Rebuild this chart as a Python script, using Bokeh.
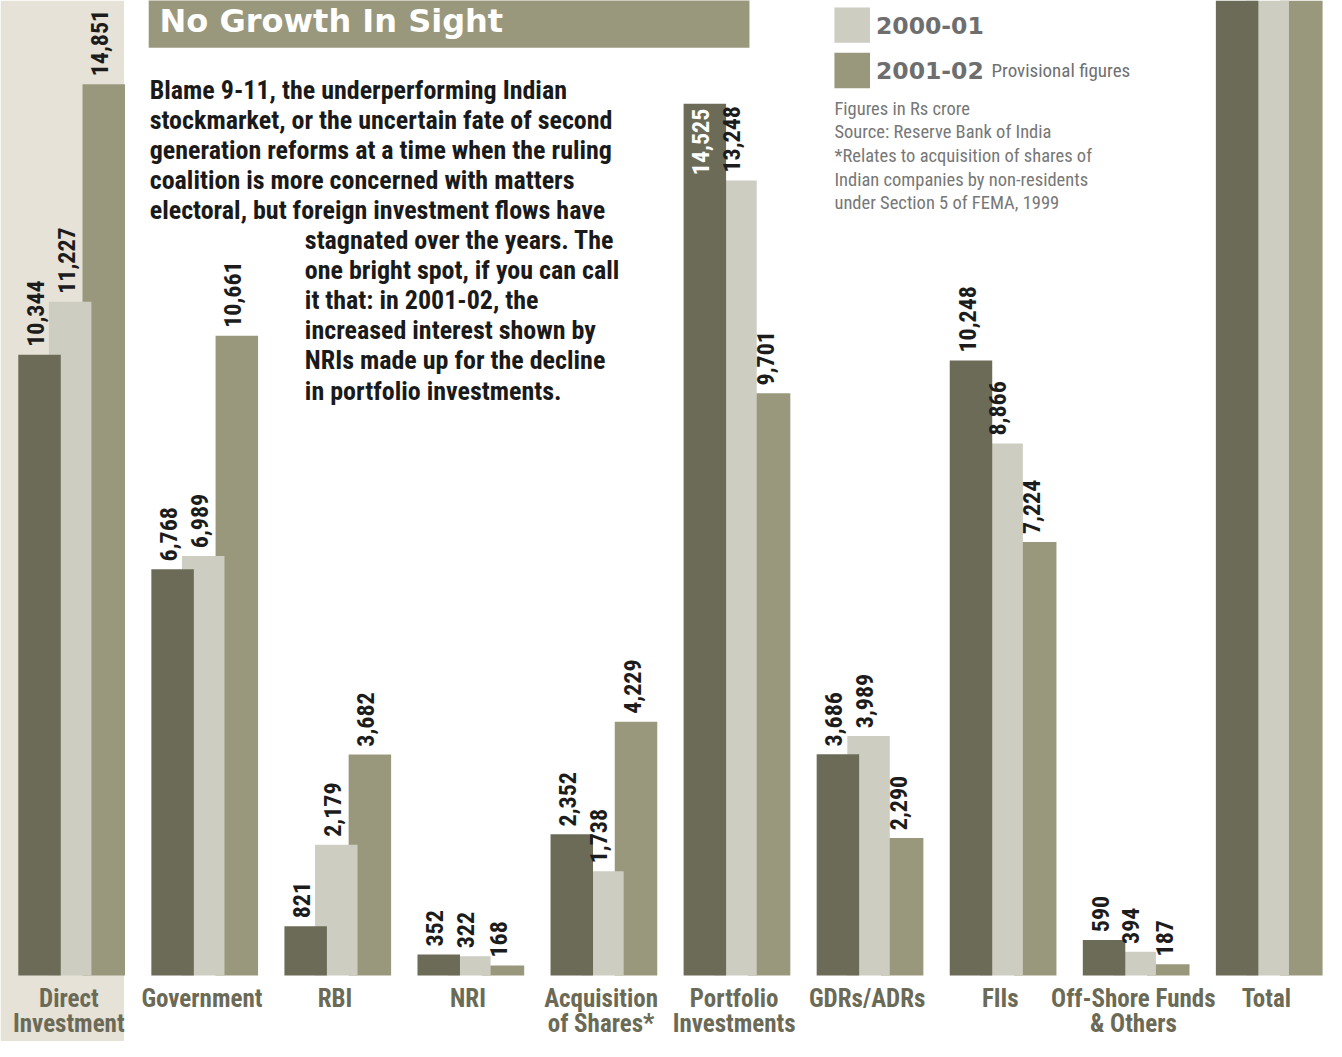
import math
from bokeh.plotting import figure
from bokeh.models import Range1d, ColumnDataSource
from bokeh.core.properties import value
from bokeh.embed import file_html
from bokeh.resources import INLINE

# ---------------- data ----------------
categories = ["Direct\nInvestment", "Government", "RBI", "NRI", "Acquisition\nof Shares*",
              "Portfolio\nInvestments", "GDRs/ADRs", "FIIs", "Off-Shore Funds\n& Others", "Total"]
series_names = ["1999-00", "2000-01", "2001-02"]
v_1999_00 = [10344, 6768, 821, 352, 2352, 14525, 3686, 10248, 590, 24869]
v_2000_01 = [11227, 6989, 2179, 322, 1738, 13248, 3989, 8866, 394, 24475]
v_2001_02 = [14851, 10661, 3682, 168, 4229, 9701, 2290, 7224, 187, 24552]
series_values = [v_1999_00, v_2000_01, v_2001_02]

paragraph = [
    "Blame 9-11, the underperforming Indian",
    "stockmarket, or the uncertain fate of second",
    "generation reforms at a time when the ruling",
    "coalition is more concerned with matters",
    "electoral, but foreign investment flows have",
    "stagnated over the years. The",
    "one bright spot, if you can call",
    "it that: in 2001-02, the",
    "increased interest shown by",
    "NRIs made up for the decline",
    "in portfolio investments.",
]
notes = [
    "Figures in Rs crore",
    "Source: Reserve Bank of India",
    "*Relates to acquisition of shares of",
    "Indian companies by non-residents",
    "under Section 5 of FEMA, 1999",
]
title = "No Growth In Sight"
provisional = "Provisional figures"

# ---------------- styling / layout ----------------
colors = ["#6c6b57", "#cecdc2", "#9a987c"]
cat_color = "#6b6a56"
NARROW = value("Roboto Condensed")
WIDE = value("DejaVu Sans")

RX = 134.67      # reference px per group
DX0 = 39.5       # reference px of first dark bar centre
YPU = 16.41      # data units per reference px (vertical)
TSHIFT = 9       # baseline correction for horizontal text (px)

def X(r):
    return (r - DX0) / RX

def Y(r):
    return (990 - r) * YPU

def YT(r):
    return Y(r - TSHIFT)

bar_w = 43 / RX
offsets = [0, 31 / RX, 65 / RX]
inside = {(5, 0)}   # label drawn inside bar (Portfolio 1999-00)
labelled_groups = 9  # Total bars run off the page

p = figure(width=1326, height=1041,
           x_range=Range1d(X(0), X(1342)), y_range=Range1d(Y(1057), Y(0)),
           output_backend="svg", toolbar_location=None,
           x_axis_location=None, y_axis_location=None, min_border=0)
p.grid.visible = False
p.outline_line_color = None
p.background_fill_color = "white"
p.border_fill_color = "white"

# faded photographic strip on the left
p.quad(left=X(0), right=X(125), top=Y(0), bottom=Y(1057),
       fill_color="#e6e2d8", line_color=None)

# bars: 2001-02 at back, 1999-00 in front
for s in [2, 1, 0]:
    xs = [i + offsets[s] for i in range(len(categories))]
    p.vbar(x=xs, top=series_values[s], bottom=0, width=bar_w,
           fill_color=colors[s], line_color=None)

# value labels
out_src = dict(x=[], y=[], t=[])
in_src = dict(x=[], y=[], t=[])
for s in range(3):
    for i in range(labelled_groups):
        v = series_values[s][i]
        xx = i + offsets[s] - 4 / RX
        if (i, s) in inside:
            in_src["x"].append(xx); in_src["y"].append(v - 5 * YPU); in_src["t"].append(f"{v:,}")
        else:
            out_src["x"].append(xx); out_src["y"].append(v + 8 * YPU); out_src["t"].append(f"{v:,}")
p.text(x="x", y="y", text="t", source=ColumnDataSource(out_src), angle=math.pi / 2,
       text_align="left", text_baseline="middle", text_font=NARROW, text_font_style="bold",
       text_font_size="24px", text_color="#1c1c1c")
p.text(x="x", y="y", text="t", source=ColumnDataSource(in_src), angle=math.pi / 2,
       text_align="right", text_baseline="middle", text_font=NARROW, text_font_style="bold",
       text_font_size="24px", text_color="white")

# category labels
l1 = dict(x=[], y=[], t=[])
l2 = dict(x=[], y=[], t=[])
for i, c in enumerate(categories):
    parts = c.split("\n")
    l1["x"].append(i + 0.22); l1["y"].append(YT(1022)); l1["t"].append(parts[0])
    if len(parts) > 1:
        l2["x"].append(i + 0.22); l2["y"].append(YT(1048)); l2["t"].append(parts[1])
for src in (l1, l2):
    p.text(x="x", y="y", text="t", source=ColumnDataSource(src), text_align="center",
           text_baseline="alphabetic", text_font=NARROW, text_font_style="bold",
           text_font_size="25px", text_color=cat_color)

# title box
p.quad(left=X(150), right=X(758), top=Y(0) + 50, bottom=Y(48),
       fill_color="#9a987c", line_color=None)
p.text(x=[X(161)], y=[YT(30)], text=[title], text_font=WIDE, text_font_style="bold",
       text_font_size="32px", text_color="white", text_baseline="alphabetic")

# paragraph
px = [X(151)] * 5 + [X(308)] * 6
py = [YT(100 + 30.5 * k) for k in range(len(paragraph))]
p.text(x=px, y=py, text=paragraph, text_font=NARROW, text_font_style="bold",
       text_font_size="26px", text_color="#1a1a1a", text_baseline="alphabetic")

# legend (1999-00 entry lies above the visible page)
for s in [1, 2]:
    top = 7 + (s - 1) * 46
    p.quad(left=X(844), right=X(880), top=Y(top), bottom=Y(top + 36),
           fill_color=colors[s], line_color=None)
    p.text(x=[X(886)], y=[YT(top + 27)], text=[series_names[s]], text_font=WIDE,
           text_font_style="bold", text_font_size="23.5px", text_color="#6e6e6e",
           text_baseline="alphabetic")
p.text(x=[X(1003)], y=[YT(80)], text=[provisional], text_font=NARROW,
       text_font_size="19px", text_color="#707070", text_baseline="alphabetic")

# notes
p.text(x=[X(844)] * len(notes), y=[YT(119 + 24 * k) for k in range(len(notes))], text=notes,
       text_font=NARROW, text_font_size="18.5px", text_color="#777777",
       text_baseline="alphabetic")

open("out.html", "w").write(file_html(p, INLINE))
